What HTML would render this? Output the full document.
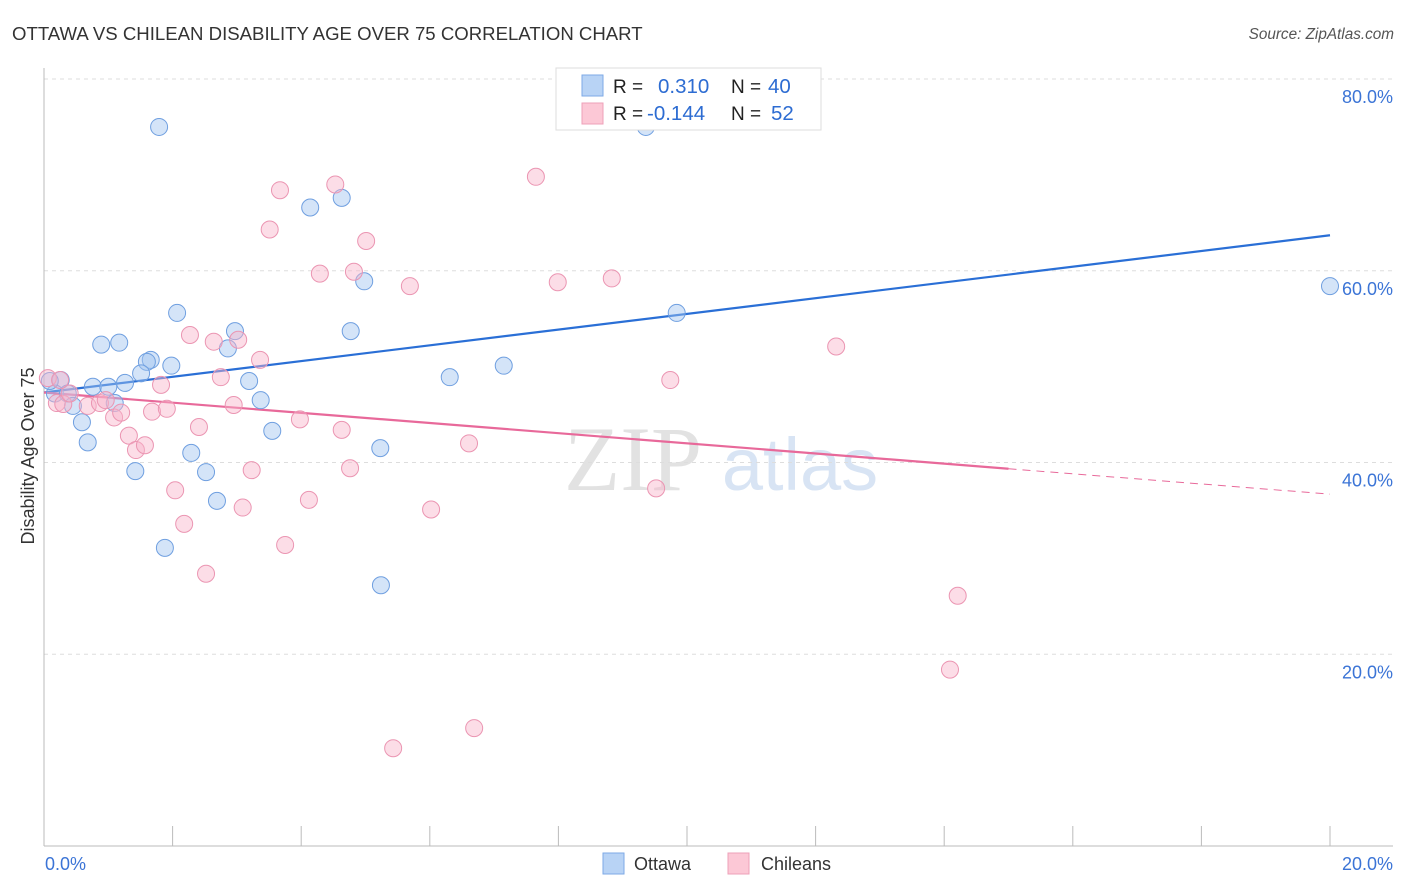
<!DOCTYPE html>
<html><head><meta charset="utf-8"><style>
body{margin:0;background:#fff;font-family:"Liberation Sans",sans-serif;}
svg{display:block}
</style></head><body>
<svg id="chart" width="1406" height="892">
<text x="12" y="40" font-size="18.6" fill="#333">OTTAWA VS CHILEAN DISABILITY AGE OVER 75 CORRELATION CHART</text>
<text x="1394" y="39" font-size="15.3" fill="#555" font-style="italic" text-anchor="end">Source: ZipAtlas.com</text>
<g><text x="633" y="490" font-size="92" fill="#e2e2e2" font-family="Liberation Serif" text-anchor="middle">ZIP</text><text x="800" y="490" font-size="74" fill="#d8e4f4" text-anchor="middle">atlas</text></g>
<g id="grid"></g><g id="axes"></g><g id="lines"></g><g id="pts"></g>
<text transform="translate(34,456) rotate(-90)" font-size="18" fill="#333" text-anchor="middle">Disability Age Over 75</text>
<g>
<rect x="556" y="68" width="265" height="62" fill="#fff" stroke="#ddd"/>
<rect x="582" y="75" width="21" height="21" fill="#b8d3f5" stroke="#7eaae6"/>
<rect x="582" y="103" width="21" height="21" fill="#fcc8d6" stroke="#eea0b8"/>
<text x="613" y="93" font-size="19" fill="#222">R =</text><text x="658" y="93" font-size="20.5" fill="#2d6cd2">0.310</text>
<text x="731" y="93" font-size="19" fill="#222">N =</text><text x="768" y="93" font-size="20.5" fill="#2d6cd2">40</text>
<text x="613" y="120" font-size="19" fill="#222">R =</text><text x="647" y="120" font-size="20.5" fill="#2d6cd2">-0.144</text>
<text x="731" y="120" font-size="19" fill="#222">N =</text><text x="771" y="120" font-size="20.5" fill="#2d6cd2">52</text>
</g>
<g>
<rect x="603" y="853" width="21" height="21" fill="#b8d3f5" stroke="#7eaae6"/>
<text x="634" y="870" font-size="18" fill="#333">Ottawa</text>
<rect x="728" y="853" width="21" height="21" fill="#fcc8d6" stroke="#eea0b8"/>
<text x="761" y="870" font-size="18" fill="#333">Chileans</text>
</g>
</svg>
<script>
const blueX=[1.79,9.36,4.14,4.63,4.98,20.0,2.07,9.84,4.77,2.97,0.89,1.17,2.86,1.66,1.60,1.98,7.15,1.51,6.31,3.19,0.26,0.76,1.00,1.26,0.17,0.37,3.37,1.10,0.45,0.59,3.55,0.68,2.29,5.23,2.52,1.42,2.69,1.88,5.24,0.09];
const blueY=[75.0,75.0,66.6,67.6,58.9,58.4,55.6,55.6,53.7,53.7,52.3,52.5,51.9,50.7,50.5,50.1,50.1,49.3,48.9,48.5,48.6,47.9,47.9,48.3,47.2,47.2,46.5,46.2,45.9,44.2,43.3,42.1,41.0,41.5,39.0,39.1,36.0,31.1,27.2,48.5];
const pinkX=[0.06,0.20,0.30,0.40,0.68,0.87,0.96,1.09,1.20,1.32,1.43,1.57,1.68,1.82,1.91,2.04,2.18,2.27,2.41,2.52,2.64,2.75,2.95,3.02,3.09,3.23,3.36,3.51,3.67,3.75,3.98,4.12,4.29,4.53,4.63,4.76,4.82,5.01,5.43,5.69,6.02,6.61,6.69,7.65,7.99,8.83,9.52,9.74,12.32,14.09,14.21,0.25];
const pinkY=[48.8,46.2,46.1,47.2,45.9,46.2,46.5,44.7,45.2,42.8,41.3,41.8,45.3,48.1,45.6,37.1,33.6,53.3,43.7,28.4,52.6,48.9,46.0,52.8,35.3,39.2,50.7,64.3,68.4,31.4,44.5,36.1,59.7,69.0,43.4,39.4,59.9,63.1,10.2,58.4,35.1,42.0,12.3,69.8,58.8,59.2,37.3,48.6,52.1,18.4,26.1,48.6];
const yTicks=[20,40,60,80];
const yTickLabels=["20.0%","40.0%","60.0%","80.0%"];
const blueTrend=[47.3,63.7];
const pinkTrend=[47.3,36.7];
const pinkSolidEnd=15.0;
const NS="http://www.w3.org/2000/svg";
const X=v=>44+v*64.3, Y=v=>846-v*9.5875;
function mk(p,t,a){const e=document.createElementNS(NS,t);for(const k in a)e.setAttribute(k,a[k]);document.getElementById(p).appendChild(e);return e;}
yTicks.forEach((t,i)=>{
 const g=mk('grid','line',{x1:44,x2:1393,y1:Y(t),y2:Y(t),stroke:'#ddd','stroke-dasharray':'4,4'});
 
 
 const l=mk('grid','text',{x:1393,y:Y(t)+24,'font-size':18,fill:'#3b74d6','text-anchor':'end'});
 l.textContent=yTickLabels[i];
 
 
});
mk('axes','line',{x1:44,x2:44,y1:68,y2:846,stroke:'#bbb'});
mk('axes','line',{x1:44,x2:1393,y1:846,y2:846,stroke:'#bbb'});
for(let i=0;i<=10;i++){const t=mk('axes','line',{x1:X(i*2),x2:X(i*2),y1:826,y2:846,stroke:'#bbb'});}
const xl0=mk('axes','text',{x:45,y:870,'font-size':18,fill:'#3b74d6'});xl0.textContent='0.0%';


const xl1=mk('axes','text',{x:1393,y:870,'font-size':18,fill:'#3b74d6','text-anchor':'end'});xl1.textContent='20.0%';


blueX.forEach((v,i)=>{const c=mk('pts','circle',{cx:X(v),cy:Y(blueY[i]),r:8.5,fill:'rgba(160,195,240,0.45)',stroke:'#6f9fe0','stroke-width':1});

});
pinkX.forEach((v,i)=>{const c=mk('pts','circle',{cx:X(v),cy:Y(pinkY[i]),r:8.5,fill:'rgba(248,180,202,0.45)',stroke:'#eb95b2','stroke-width':1});

});
const bl=mk('lines','line',{x1:X(0),y1:Y(blueTrend[0]),x2:X(20),y2:Y(blueTrend[1]),stroke:'#2a6fd6','stroke-width':2.2});


const pm=pinkTrend[0]+(pinkTrend[1]-pinkTrend[0])*pinkSolidEnd/20;
const pl=mk('lines','line',{x1:X(0),y1:Y(pinkTrend[0]),x2:X(pinkSolidEnd),y2:Y(pm),stroke:'#e8699a','stroke-width':2.2});


const pd=mk('lines','line',{x1:X(pinkSolidEnd),y1:Y(pm),x2:X(20),y2:Y(pinkTrend[1]),stroke:'#e8699a','stroke-width':1,'stroke-dasharray':'8,6'});


</script>
</body></html>
